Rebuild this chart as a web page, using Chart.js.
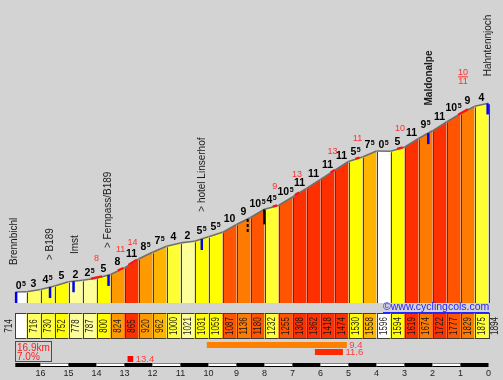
<!DOCTYPE html>
<html><head><meta charset="utf-8">
<script src="https://cdn.jsdelivr.net/npm/chart.js@4/dist/chart.umd.min.js"></script>
<style>html,body{margin:0;padding:0;background:#d3d3d3;}canvas{display:block;}</style>
</head><body>
<canvas id="c" width="503" height="380"></canvas>
<script>
// ---- data ----
const dist = [0,0.4,0.9,1.4,1.9,2.4,2.9,3.4,3.9,4.4,4.9,5.4,5.9,6.4,6.9,7.4,7.9,8.4,8.9,9.4,9.9,10.4,10.9,11.4,11.9,12.4,12.9,13.4,13.9,14.4,14.9,15.4,15.9,16.4,16.9];
const elev = [714,716,730,752,778,787,800,824,865,920,962,1000,1021,1031,1059,1087,1136,1180,1232,1255,1308,1362,1418,1474,1530,1558,1596,1594,1619,1674,1722,1777,1829,1875,1894];
const grads = [0.5,3,4.5,5,2,2.5,5,8,11,8.5,7.5,4,2,5.5,5.5,10,9,10.5,4.5,10.5,11,11,11,11,5.5,7.5,0.5,5,11,9.5,11,10.5,9,4];
const kmLabels = [16,15,14,13,12,11,10,9,8,7,6,5,4,3,2,1,0];
const placeNames = ['Brennbichl','> B189','Imst','> Fernpass/B189','> hotel Linserhof','Maldonalpe','Hahntennjoch'];
const placeKm = [0, 1.24, 2.13, 3.31, 6.69, 14.79, 16.9];
const placeBold = [false,false,false,false,false,true,false];
const markerKm = [0.03, 1.24, 2.08, 3.33, 6.66, 14.75, 16.87, 8.3, 8.89];
const markerKind = ['blue','blue','blue','blue','blue','blue','blue','dash','black'];
const steepKm = [2.9, 3.76, 4.19, 9.27, 10.06, 11.33, 12.22, 13.74, 15.99];
const steepVal = ['8','11','14','9','13','13','11','10','10/11'];
const steepLen = [0.4, 0.2, 0.3, 0.15, 0.15, 0.15, 0.15, 0.2, 0.35];
const totalKm = 16.9, avgGrad = '7.0%';
const bestStart = [6.84, 10.7, 4.01];
const bestLen = [5, 1, 0.2];
const bestVal = ['9.4', '11.6', '13.4'];
const BASE = 645, Y_MIN = 245, Y_MAX = 2540;

function gradColor(g){
  if (g < 1) return '#ffffff';
  if (g < 3) return '#ffff99';
  if (g < 4) return '#ffff66';
  if (g < 5) return '#ffff33';
  if (g < 7) return '#ffff00';
  if (g < 8) return '#ffb400';
  if (g < 9) return '#ff9900';
  if (g < 10) return '#ff7a00';
  if (g < 11) return '#ff5500';
  return '#ff3000';
}
function elevAt(d){
  for (let i = 0; i < dist.length - 1; i++) {
    if (d <= dist[i+1]) {
      const t = (d - dist[i]) / (dist[i+1] - dist[i]);
      return elev[i] + t * (elev[i+1] - elev[i]);
    }
  }
  return elev[elev.length-1];
}

const datasets = grads.map((g, i) => ({
  data: [{x: dist[i], y: elev[i]}, {x: dist[i+1], y: elev[i+1]}],
  backgroundColor: gradColor(g),
  borderColor: '#6e6e6e',
  borderWidth: 1.6,
  fill: {value: BASE},
  pointRadius: 0,
  tension: 0
}));

const bgPlugin = {
  id: 'bg',
  beforeDraw(chart){
    const c = chart.ctx; c.save(); c.fillStyle = '#d3d3d3';
    c.fillRect(0, 0, chart.width, chart.height); c.restore();
  }
};

const overlay = {
  id: 'overlay',
  afterDatasetsDraw(chart){
    const c = chart.ctx, xs = chart.scales.x, ys = chart.scales.y;
    const X = d => xs.getPixelForValue(d), Y = e => ys.getPixelForValue(e);
    const yb = Y(BASE);
    c.save();
    // bar dividers
    c.strokeStyle = '#3e3e3e'; c.lineWidth = 1;
    for (let i = 1; i < dist.length; i++) {
      const x = Math.round(X(dist[i])) + 0.5;
      c.beginPath(); c.moveTo(x, Y(elev[i]) + 1); c.lineTo(x, yb); c.stroke();
    }
    // red steep marks on profile
    c.strokeStyle = '#ff1010'; c.lineWidth = 2.2;
    steepKm.forEach((d, i) => {
      const a = d - steepLen[i]/2, b = d + steepLen[i]/2;
      c.beginPath(); c.moveTo(X(a), Y(elevAt(a)) - 0.5); c.lineTo(X(b), Y(elevAt(b)) - 0.5); c.stroke();
    });
    // markers
    markerKm.forEach((d, i) => {
      const x = X(d), y0 = Y(elevAt(d));
      const kind = markerKind[i];
      c.strokeStyle = kind === 'blue' ? '#0000ff' : '#000000';
      c.lineWidth = kind === 'blue' ? 2.5 : 2;
      const len = kind === 'blue' ? 11 : 15;
      c.setLineDash(kind === 'dash' ? [3, 2] : []);
      c.beginPath(); c.moveTo(x, y0); c.lineTo(x, y0 + len); c.stroke();
    });
    c.setLineDash([]);
    // gradient labels
    c.fillStyle = '#000'; c.textBaseline = 'alphabetic'; c.textAlign = 'left';
    grads.forEach((g, i) => {
      const cx = X((dist[i] + dist[i+1]) / 2);
      const by = Y(Math.max(elev[i], elev[i+1])) - 2.5;
      const whole = String(Math.floor(g)), half = (g % 1) > 0.25;
      c.font = 'bold 10.5px "Liberation Sans"';
      const w1 = c.measureText(whole).width;
      c.font = 'bold 7px "Liberation Sans"';
      const w2 = half ? c.measureText('5').width + 0.5 : 0;
      const sx = cx - (w1 + w2) / 2;
      c.font = 'bold 10.5px "Liberation Sans"';
      c.fillText(whole, sx, by);
      if (half) { c.font = 'bold 7px "Liberation Sans"'; c.fillText('5', sx + w1 + 0.5, by - 3); }
    });
    // red max-gradient labels
    c.fillStyle = '#ff3030'; c.font = '9px "Liberation Sans"'; c.textAlign = 'center'; c.textBaseline = 'middle';
    steepKm.forEach((d, i) => {
      const x = X(d), y = Y(elevAt(d));
      const v = steepVal[i];
      if (v.includes('/')) {
        const [a, b] = v.split('/');
        c.fillText(a, x, y - 40); c.fillText(b, x, y - 31);
        c.strokeStyle = '#ff3030'; c.lineWidth = 1;
        c.beginPath(); c.moveTo(x - 5, y - 35.5); c.lineTo(x + 5, y - 35.5); c.stroke();
      } else {
        c.fillText(v, x, y - 20);
      }
    });
    // place names (vertical)
    c.fillStyle = '#1a1a1a'; c.textAlign = 'left'; c.textBaseline = 'middle';
    placeNames.forEach((n, i) => {
      const d = placeKm[i];
      const x = X(d) - (i === 0 ? 1 : 0), y = Y(elevAt(d)) - 27;
      c.save(); c.translate(x, y); c.rotate(-Math.PI / 2);
      c.font = (placeBold[i] ? 'bold ' : '') + '10px "Liberation Sans"';
      c.fillText(n, 0, 0); c.restore();
    });
    // elevation boxes
    const bt = 313, bh = 26;
    c.textAlign = 'center'; c.textBaseline = 'middle';
    for (let i = 0; i < grads.length; i++) {
      const x0 = X(dist[i]), x1 = X(dist[i+1]);
      c.fillStyle = gradColor(grads[i]); c.fillRect(x0, bt, x1 - x0, bh);
      c.strokeStyle = '#3e3e3e'; c.lineWidth = 1;
      c.strokeRect(Math.round(x0) + 0.5, bt + 0.5, Math.round(x1) - Math.round(x0), bh - 1);
      if (i > 0) {
        c.save(); c.translate((x0 + x1) / 2 + 0.5, bt + bh / 2); c.rotate(-Math.PI / 2); c.scale(0.8, 1);
        c.fillStyle = '#1a1a1a'; c.font = '10px "Liberation Sans"'; c.fillText(String(elev[i]), 0, 0);
        c.restore();
      }
    }
    [[X(0) - 6, elev[0]], [X(totalKm) + 7, elev[elev.length - 1]]].forEach(([x, v]) => {
      c.save(); c.translate(x, bt + bh / 2); c.rotate(-Math.PI / 2); c.scale(0.82, 1);
      c.fillStyle = '#1a1a1a'; c.font = '10px "Liberation Sans"'; c.fillText(String(v), 0, 0);
      c.restore();
    });
    // link
    c.font = '10.5px "Liberation Sans"'; c.fillStyle = '#2424ff'; c.textAlign = 'left'; c.textBaseline = 'alphabetic';
    const link = '\u00a9www.cyclingcols.com';
    const lw = c.measureText(link).width;
    c.fillText(link, 383, 310);
    c.strokeStyle = '#2424ff'; c.lineWidth = 1;
    c.beginPath(); c.moveTo(383, 312.5); c.lineTo(383 + lw, 312.5); c.stroke();
    // summary box
    c.strokeStyle = '#ff0000'; c.lineWidth = 1;
    c.strokeRect(15.5, 341.5, 36, 20);
    c.fillStyle = '#ff1a1a'; c.font = '10px "Liberation Sans"';
    c.fillText(totalKm + 'km', 17, 350.5);
    c.fillText(avgGrad, 17, 360);
    // steepest sections
    const bestY = [342, 349, 356], bestH = [6, 6, 6], bestC = ['#ff7f00', '#ff2a00', '#ff0000'];
    bestStart.forEach((s, i) => {
      const x0 = X(s), x1 = X(s + bestLen[i]);
      c.fillStyle = bestC[i]; c.fillRect(x0, bestY[i], x1 - x0, bestH[i]);
      c.fillStyle = '#ff3c3c'; c.font = '9.5px "Liberation Sans"'; c.textBaseline = 'middle';
      c.fillText(bestVal[i], x1 + 2.5, bestY[i] + 3.5);
    });
    // km ruler
    for (let k = 16; k >= 0; k--) {
      const a = Math.max(0, totalKm - (k + 1)), b = totalKm - k;
      const x0 = X(a), x1 = X(b);
      c.fillStyle = '#000'; c.fillRect(x0, 363, x1 - x0, 4);
      if (k % 2 === 1) { c.fillStyle = '#fff'; c.fillRect(x0, 363.5, x1 - x0, 2.5); }
    }
    c.restore();
  }
};

new Chart(document.getElementById('c'), {
  type: 'line',
  data: { datasets },
  options: {
    responsive: false, animation: false, devicePixelRatio: 1,
    layout: { padding: { left: 15.3, right: 14.5, top: 0, bottom: 0 } },
    plugins: { legend: { display: false }, tooltip: { enabled: false } },
    scales: {
      x: {
        type: 'linear', min: 0, max: totalKm,
        grid: { display: false, drawTicks: false }, border: { display: false },
        afterBuildTicks: s => { s.ticks = kmLabels.map(k => ({ value: totalKm - k })); },
        afterFit: s => { s.height = 13; },
        ticks: { autoSkip: false, maxRotation: 0, padding: 1, color: '#222',
          font: { family: 'Liberation Sans', size: 9 },
          callback: (v, i) => String(kmLabels[i]) }
      },
      y: { type: 'linear', display: false, min: Y_MIN, max: Y_MAX }
    }
  },
  plugins: [bgPlugin, overlay]
});
</script>
</body></html>
